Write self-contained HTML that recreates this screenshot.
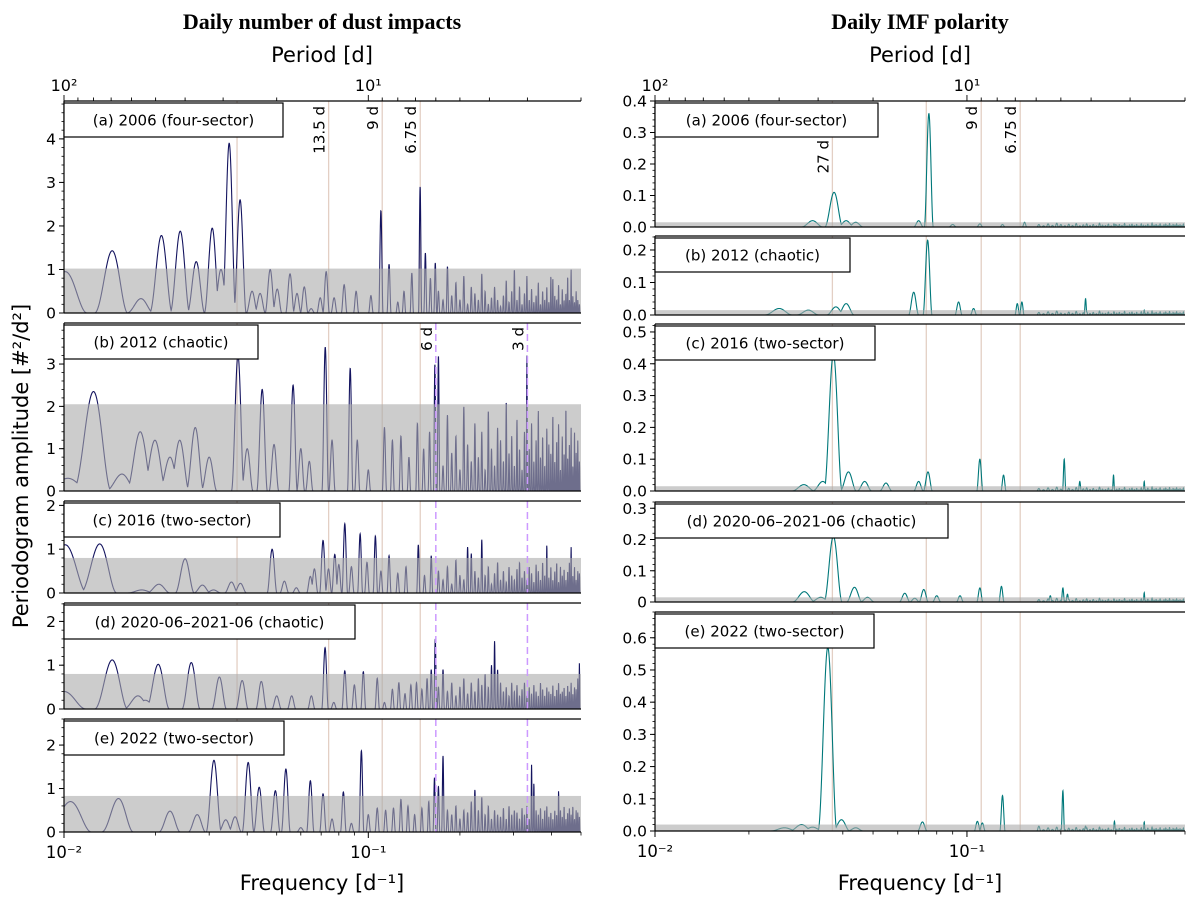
<!DOCTYPE html>
<html><head><meta charset="utf-8"><style>
body{margin:0;background:#fff}
svg{display:block;font-family:"DejaVu Sans","Liberation Sans",sans-serif}
</style></head><body>
<svg id="chart" width="1200" height="899" viewBox="0 0 1200 899" xmlns="http://www.w3.org/2000/svg">
<text x="322" y="29" text-anchor="middle" font-family="Liberation Serif, serif" font-weight="bold" font-size="22">Daily number of dust impacts</text>
<text x="920" y="29" text-anchor="middle" font-family="Liberation Serif, serif" font-weight="bold" font-size="22">Daily IMF polarity</text>
<text x="322" y="62" text-anchor="middle" font-size="21">Period [d]</text>
<text x="920" y="62" text-anchor="middle" font-size="21">Period [d]</text>
<text x="322" y="890" text-anchor="middle" font-size="21">Frequency [d⁻¹]</text>
<text x="920" y="890" text-anchor="middle" font-size="21">Frequency [d⁻¹]</text>
<text transform="translate(28,466) rotate(-90)" text-anchor="middle" font-size="21">Periodogram amplitude [#²/d²]</text>
<g id="plots"></g>
</svg>
<script>
// ---------- data ----------
const forestFreqs=[0.170,0.176,0.182,0.188,0.194,0.200,0.206,0.212,0.218,0.224,0.230,0.236,0.242,0.248,0.254,0.260,0.266,0.272,0.278,0.284,0.290,0.296,0.302,0.308,0.314,0.320,0.326,0.332,0.338,0.344,0.350,0.356,0.362,0.368,0.374,0.380,0.386,0.392,0.398,0.404,0.410,0.416,0.422,0.428,0.434,0.440,0.446,0.452,0.458,0.464,0.470,0.476,0.482,0.488,0.494];

const dustA_freqs=[0.0101,0.0144,0.0179,0.0209,0.0241,0.0272,0.0307,0.0328,0.0349,0.0379,0.0415,0.0441,0.0476,0.0502,0.0553,0.0583,0.0616,0.0649,0.0695,0.0727,0.0772,0.0833,0.0912,0.102,0.110,0.117,0.125,0.131,0.139,0.148,0.154,0.160,0.166];
const dustA_amps=[0.95,1.43,0.33,1.78,1.88,1.18,1.95,1.0,3.9,2.6,0.5,0.45,1.0,0.55,0.9,0.45,0.6,0.1,0.35,0.95,0.35,0.65,0.5,0.4,2.35,1.12,0.25,0.5,0.92,2.9,1.38,0.8,1.15];
const dustA_forest=[0.5,0.3,1.07,0.4,0.7,0.3,0.85,0.2,0.6,0.45,0.3,0.9,0.5,0.2,0.35,0.6,0.3,0.15,0.4,0.75,0.25,0.5,1.0,0.3,0.6,0.2,0.45,0.85,0.3,0.55,0.25,0.4,0.7,0.2,0.5,0.3,0.6,0.25,0.85,0.8,0.4,0.3,0.65,0.2,0.55,0.3,0.45,0.85,0.3,1.0,0.4,0.25,0.5,0.3,0.2];

const dustB_freqs=[0.0103,0.0125,0.0155,0.0178,0.0199,0.0223,0.024,0.027,0.030,0.0373,0.040,0.0448,0.049,0.0566,0.060,0.064,0.0722,0.076,0.0872,0.092,0.100,0.113,0.120,0.128,0.136,0.145,0.152,0.159,0.1655];
const dustB_amps=[0.3,2.35,0.4,1.4,1.2,0.8,1.2,1.5,0.8,3.2,1.0,2.4,1.1,2.5,1.0,0.7,3.4,1.2,2.9,1.2,0.5,1.5,1.2,1.3,0.8,1.6,1.0,1.4,3.0];
const dustB_forest=[3.2,0.6,1.8,0.9,1.3,0.5,2.0,1.1,0.7,1.6,0.8,1.4,0.5,1.9,1.0,0.6,1.5,1.2,0.7,2.1,0.9,1.3,0.6,1.7,1.0,0.5,1.4,3.2,1.0,1.6,0.7,1.2,1.9,0.8,1.3,0.6,1.5,1.1,0.9,1.8,0.7,1.2,1.6,0.5,1.3,0.9,2.0,0.8,1.1,1.5,0.6,1.4,0.9,1.2,0.7];

const dustC_freqs=[0.0101,0.0131,0.0180,0.0205,0.0250,0.0285,0.0310,0.0355,0.0380,0.0483,0.0530,0.0580,0.0645,0.0665,0.0710,0.0740,0.0776,0.0800,0.0837,0.0880,0.0940,0.0990,0.1055,0.1100,0.117,0.125,0.133,0.146,0.153,0.161];
const dustC_amps=[1.1,1.12,0.07,0.2,0.78,0.18,0.07,0.25,0.22,1.0,0.27,0.12,0.38,0.55,1.2,0.55,0.88,0.65,1.58,0.6,1.35,0.7,1.3,0.5,0.85,0.45,0.6,1.1,0.4,0.85];
const dustC_forest=[0.5,0.3,0.6,0.2,0.75,0.4,0.3,1.05,0.9,0.5,0.35,1.22,0.4,0.6,0.2,0.45,0.7,0.3,0.5,0.25,0.6,0.4,0.3,0.55,0.7,0.35,0.5,0.3,0.6,0.45,0.25,0.65,0.5,0.3,0.7,0.4,1.1,0.35,0.6,0.3,0.5,0.7,0.25,0.6,0.4,0.55,0.3,0.5,0.7,1.05,0.4,0.6,0.3,0.5,0.45];

const dustD_freqs=[0.0100,0.0144,0.0175,0.0185,0.0204,0.0262,0.0324,0.0385,0.0445,0.050,0.056,0.065,0.0721,0.077,0.0837,0.090,0.0963,0.107,0.113,0.120,0.126,0.132,0.138,0.144,0.150,0.156,0.161,0.166];
const dustD_amps=[0.4,1.12,0.3,0.2,1.02,1.06,0.73,0.65,0.63,0.3,0.3,0.3,1.4,0.15,0.87,0.55,0.85,0.7,0.15,0.45,0.6,0.35,0.55,0.6,0.45,0.7,0.9,1.6];
const dustD_forest=[0.5,0.9,0.4,0.6,0.3,0.5,0.7,0.35,0.6,0.4,0.7,0.55,0.8,0.5,1.0,1.55,0.9,0.6,0.4,0.5,0.3,0.6,0.4,0.55,0.3,0.45,0.6,0.3,0.5,0.35,0.55,0.4,0.3,0.6,0.45,0.3,0.5,0.4,0.35,0.55,0.3,0.45,0.6,0.35,0.4,0.5,0.3,0.55,0.4,0.6,0.35,0.5,0.45,0.7,1.05];

const dustE_freqs=[0.0105,0.0151,0.0223,0.0274,0.0311,0.0340,0.0365,0.0403,0.0438,0.0495,0.0536,0.0600,0.0645,0.0710,0.0760,0.0828,0.0880,0.0949,0.100,0.107,0.114,0.121,0.128,0.135,0.142,0.150,0.158,0.165];
const dustE_amps=[0.7,0.77,0.48,0.4,1.65,0.28,0.35,1.6,1.03,0.95,1.45,0.1,1.18,0.88,0.3,0.92,0.2,1.87,0.4,0.55,0.5,0.55,0.75,0.6,0.4,0.55,0.7,1.25];
const dustE_forest=[1.05,1.75,0.5,0.4,0.6,0.3,0.5,0.45,0.7,0.97,0.5,0.8,0.4,0.6,0.3,0.5,0.4,0.35,0.55,0.3,0.6,0.4,0.5,0.45,0.3,0.55,0.4,0.6,0.3,1.55,1.12,0.5,0.4,0.55,0.3,0.5,0.6,0.35,0.45,0.3,0.5,0.4,0.95,0.5,0.35,0.6,0.3,0.45,0.55,0.4,0.6,0.3,0.5,0.45,0.35];

const imfA_freqs=[0.0320,0.0375,0.0410,0.0440,0.0700,0.0755,0.0900,0.1100,0.1300,0.1530,0.2000,0.3000];
const imfA_amps=[0.02,0.11,0.02,0.015,0.02,0.36,0.008,0.01,0.008,0.015,0.008,0.008];
const imfB_freqs=[0.0250,0.0310,0.0380,0.0410,0.0675,0.0748,0.0940,0.1050,0.1450,0.1500,0.2400,0.3700];
const imfB_amps=[0.02,0.015,0.025,0.035,0.07,0.23,0.04,0.02,0.035,0.04,0.05,0.015];
const imfC_freqs=[0.0300,0.0345,0.0373,0.0417,0.0470,0.0550,0.0700,0.0750,0.1100,0.1310,0.2050,0.2300,0.2950,0.3700];
const imfC_amps=[0.02,0.03,0.43,0.06,0.03,0.025,0.03,0.06,0.1,0.05,0.1,0.03,0.05,0.03];
const imfD_freqs=[0.0301,0.0340,0.0373,0.0436,0.0480,0.0632,0.0680,0.0727,0.0800,0.0950,0.1100,0.1290,0.1850,0.2030,0.2100,0.3700];
const imfD_amps=[0.033,0.015,0.21,0.047,0.015,0.028,0.012,0.04,0.02,0.02,0.045,0.05,0.02,0.045,0.025,0.03];
const imfE_freqs=[0.0260,0.0295,0.0320,0.0358,0.0396,0.0440,0.0720,0.1080,0.1120,0.1300,0.1700,0.2030,0.2400,0.2970,0.3700];
const imfE_amps=[0.01,0.02,0.012,0.57,0.035,0.01,0.028,0.03,0.025,0.11,0.015,0.125,0.015,0.03,0.028];
const imfForest=[0.008,0.004,0.01,0.005,0.012,0.006,0.004,0.009,0.005,0.011,0.004,0.007,0.01,0.005,0.008,0.004,0.012,0.006,0.005,0.009,0.004,0.01,0.006,0.008,0.005,0.011,0.004,0.007,0.009,0.005,0.008,0.004,0.01,0.006,0.005,0.009,0.004,0.012,0.006,0.008,0.005,0.01,0.004,0.007,0.009,0.005,0.011,0.004,0.008,0.006,0.01,0.005,0.007,0.004,0.009];

const dustThresholds=[1.02,2.05,0.8,0.8,0.83];
const imfThresholds=[0.015,0.015,0.015,0.015,0.02];
const refPeriods=[27,13.5,9,6.75];
const dashedPeriods=[6,3];

// ---------- layout ----------
const NS="http://www.w3.org/2000/svg";
const root=document.getElementById('plots');
function el(tag,attrs,parent){const e=document.createElementNS(NS,tag);for(const k in attrs)e.setAttribute(k,attrs[k]);(parent||root).appendChild(e);return e;}
const FMIN=0.01,FMAX=0.5;
const cols=[{x0:64,x1:581,color:'#14145f',hw:0.0018},{x0:655,x1:1185,color:'#00787a',hw:0.0025}];
const leftPanels=[
 {top:101,bot:313,ymax:4.87,ticks:[0,1,2,3,4],minor:0.2,label:'(a) 2006 (four-sector)',lw:219,f:dustA_freqs,a:dustA_amps,fa:dustA_forest,thr:dustThresholds[0]},
 {top:323,bot:491,ymax:3.97,ticks:[0,1,2,3],minor:0.2,label:'(b) 2012 (chaotic)',lw:194,f:dustB_freqs,a:dustB_amps,fa:dustB_forest,thr:dustThresholds[1]},
 {top:501,bot:593,ymax:2.1,ticks:[0,1,2],minor:0.2,label:'(c) 2016 (two-sector)',lw:216,f:dustC_freqs,a:dustC_amps,fa:dustC_forest,thr:dustThresholds[2]},
 {top:603,bot:709,ymax:2.42,ticks:[0,1,2],minor:0.2,label:'(d) 2020-06–2021-06 (chaotic)',lw:291,f:dustD_freqs,a:dustD_amps,fa:dustD_forest,thr:dustThresholds[3]},
 {top:719,bot:832,ymax:2.6,ticks:[0,1,2],minor:0.2,label:'(e) 2022 (two-sector)',lw:220,f:dustE_freqs,a:dustE_amps,fa:dustE_forest,thr:dustThresholds[4]}];
const rightPanels=[
 {top:101,bot:227,ymax:0.4,ticks:[0,0.1,0.2,0.3,0.4],minor:0.02,label:'(a) 2006 (four-sector)',lw:223,f:imfA_freqs,a:imfA_amps,fa:imfForest,thr:imfThresholds[0]},
 {top:236,bot:315,ymax:0.243,ticks:[0,0.1,0.2],minor:0.02,label:'(b) 2012 (chaotic)',lw:195,f:imfB_freqs,a:imfB_amps,fa:imfForest,thr:imfThresholds[1]},
 {top:324,bot:491,ymax:0.525,ticks:[0,0.1,0.2,0.3,0.4,0.5],minor:0.02,label:'(c) 2016 (two-sector)',lw:220,f:imfC_freqs,a:imfC_amps,fa:imfForest,thr:imfThresholds[2]},
 {top:502,bot:602,ymax:0.32,ticks:[0,0.1,0.2,0.3],minor:0.02,label:'(d) 2020-06–2021-06 (chaotic)',lw:293,f:imfD_freqs,a:imfD_amps,fa:imfForest,thr:imfThresholds[3],zeroLabel:'0'},
 {top:612,bot:831,ymax:0.68,ticks:[0,0.1,0.2,0.3,0.4,0.5,0.6],minor:0.02,label:'(e) 2022 (two-sector)',lw:219,f:imfE_freqs,a:imfE_amps,fa:imfForest,thr:imfThresholds[4]}];

function xScale(col,f){return col.x0+(col.x1-col.x0)*Math.log10(f/FMIN)/Math.log10(FMAX/FMIN);}
let clipId=0;
function drawPanel(col,p,ci,pi){
  const g=el('g',{});
  
  
  const yScale=v=>p.bot-(p.bot-p.top)*v/p.ymax;
  const cid='clip'+(clipId++);
  const cp=el('clipPath',{id:cid},g);el('rect',{x:col.x0,y:p.top,width:col.x1-col.x0,height:p.bot-p.top},cp);
  const inner=el('g',{'clip-path':'url(#'+cid+')'},g);
  refPeriods.forEach(P=>{const x=xScale(col,1/P);const l=el('line',{x1:x,x2:x,y1:p.top,y2:p.bot,stroke:'#e3cfc4','stroke-width':1.3},inner);
    });
  const allF=p.f.concat(forestFreqs), allA=p.a.concat(p.fa);
  const N=3200;let d='';
  for(let i=0;i<=N;i++){
    const f=FMIN*Math.pow(FMAX/FMIN,i/N);let v=0;
    for(let k=0;k<allF.length;k++){const dd=(f-allF[k])/col.hw;if(Math.abs(dd)<1){const s=allA[k]*Math.pow(Math.cos(Math.PI/2*dd),2);if(s>v)v=s;}}
    d+=(i?'L':'M')+xScale(col,f).toFixed(2)+' '+yScale(v).toFixed(2);
  }
  const path=el('path',{d:d,fill:'none',stroke:col.color,'stroke-width':1.1},inner);
  
  
  const band=el('rect',{x:col.x0,y:yScale(p.thr),width:col.x1-col.x0,height:p.bot-yScale(p.thr),fill:'#aaaaaa','fill-opacity':0.6},inner);
  
  
  if(ci===0&&pi>0){dashedPeriods.forEach(P=>{const x=xScale(col,1/P);const l=el('line',{x1:x,x2:x,y1:p.top,y2:p.bot,stroke:'#cc99ff','stroke-width':1.5,'stroke-dasharray':'7,4'},inner);
    });}
  el('line',{x1:col.x0,x2:col.x1,y1:p.top,y2:p.top,stroke:'#000','stroke-width':1.2},g);
  el('line',{x1:col.x0,x2:col.x1,y1:p.bot,y2:p.bot,stroke:'#000','stroke-width':1.2},g);
  el('line',{x1:col.x0,x2:col.x0,y1:p.top,y2:p.bot,stroke:'#000','stroke-width':1.2},g);
  for(let v=0;v<=p.ymax+1e-9;v+=p.minor){const y=yScale(v);el('line',{x1:col.x0-2.5,x2:col.x0,y1:y,y2:y,stroke:'#000','stroke-width':0.8},g);}
  p.ticks.forEach(v=>{const y=yScale(v);el('line',{x1:col.x0-5,x2:col.x0,y1:y,y2:y,stroke:'#000','stroke-width':1},g);
    const t=el('text',{x:col.x0-8,y:y+5.5,'text-anchor':'end','font-size':15.5},g);
    t.textContent=ci===0?String(v):(v===0&&p.zeroLabel?p.zeroLabel:v.toFixed(1));
    });
  const lg=el('g',{},g);
  el('rect',{x:col.x0,y:p.top+2,width:p.lw,height:34,fill:'#fff',stroke:'#000','stroke-width':1.2},lg);
  const lt=el('text',{x:col.x0+p.lw/2,y:p.top+24.5,'text-anchor':'middle','font-size':15},lg);lt.textContent=p.label;
  if(pi===4){for(let dec=-2;dec<=-1;dec++){for(let m=1;m<=9;m++){const f=m*Math.pow(10,dec);if(f>FMAX)break;const x=xScale(col,f);
      el('line',{x1:x,x2:x,y1:p.bot,y2:p.bot+(m===1?6:3.5),stroke:'#000','stroke-width':m===1?1:0.8},g);
      if(m===1){const t=el('text',{x:x,y:p.bot+26,'text-anchor':'middle','font-size':16.5},g);t.textContent='10⁻'+(dec===-2?'²':'¹');
        }}}}
  if(pi===0){[100,90,80,70,60,50,40,30,20,10,9,8,7,6,5,4,3,2].forEach(per=>{const f=1/per;const x=xScale(col,f);
      el('line',{x1:x,x2:x,y1:p.top,y2:p.top-(per===10||per===100?6:3.5),stroke:'#000','stroke-width':0.9},g);});
    [[100,'10²'],[10,'10¹']].forEach(([per,s])=>{const t=el('text',{x:xScale(col,1/per),y:p.top-10,'text-anchor':'middle','font-size':16},g);t.textContent=s;
      });
  }
  return {g,yScale};
}
function vlabel(col,P,txt,y){const x=xScale(col,1/P)-4;const t=el('text',{transform:'translate('+x+','+y+') rotate(-90)','text-anchor':'end','font-size':15});t.textContent=txt;
  }
leftPanels.forEach((p,i)=>drawPanel(cols[0],p,0,i));
rightPanels.forEach((p,i)=>drawPanel(cols[1],p,1,i));
vlabel(cols[0],13.5,'13.5 d',106);vlabel(cols[0],9,'9 d',106);vlabel(cols[0],6.75,'6.75 d',106);
vlabel(cols[0],6,'6 d',327);vlabel(cols[0],3,'3 d',327);
vlabel(cols[1],27,'27 d',140);vlabel(cols[1],9,'9 d',106);vlabel(cols[1],6.75,'6.75 d',106);
</script>
</body></html>
